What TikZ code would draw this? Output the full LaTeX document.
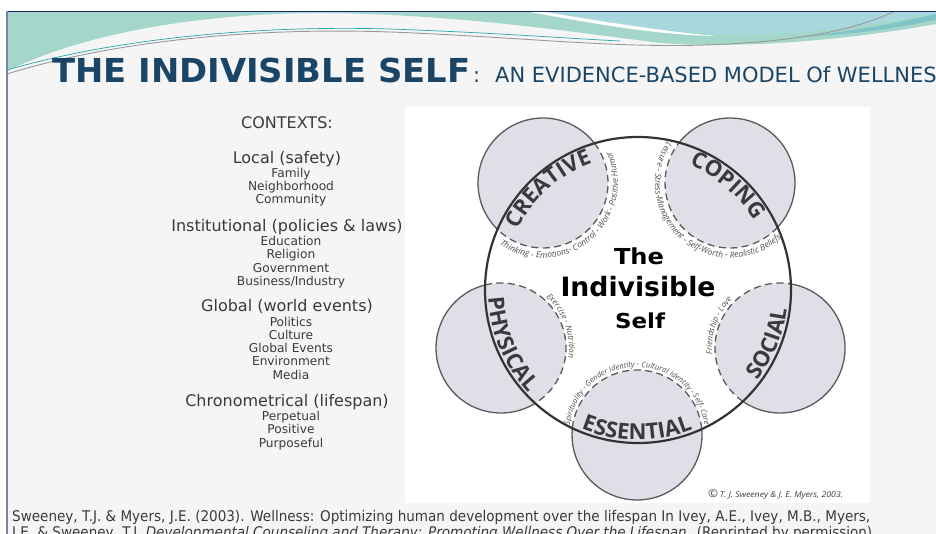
\documentclass[tikz,border=0pt]{standalone}
\usepackage{graphicx}
\usepackage{fontspec}
\setmainfont{DejaVu Sans}
\newfontfamily\opensans{Open Sans}
\usetikzlibrary{decorations.text}

\definecolor{pagebg}{HTML}{F5F5F5}
\definecolor{titleblue}{HTML}{1B4566}
\definecolor{tealgreen}{HTML}{A4D6CA}
\definecolor{tealblue}{HTML}{A8D8DD}
\definecolor{tealdeep}{HTML}{7FC4C6}
\definecolor{framenavy}{HTML}{1C2766}
\definecolor{frameside}{HTML}{7A86A6}
\definecolor{ctxgray}{HTML}{3A3A3A}
\definecolor{bubblefill}{HTML}{E0DEE6}
\definecolor{rimgray}{HTML}{5A5A5A}
\definecolor{ringdark}{HTML}{333333}
\definecolor{labeldark}{HTML}{3A3A3A}
\definecolor{notegray}{HTML}{505050}

\newcommand\arcsmallfont[1]{\opensans\itshape\fontsize{#1}{10}\selectfont}
\newcommand\arcbigfont{\opensans\bfseries\fontsize{22}{24}\selectfont}

\begin{document}
\begin{tikzpicture}[x=1pt,y=-1pt,
  ctxhead/.style={font=\fontsize{16}{18}\selectfont, text=ctxgray, anchor=base, inner sep=0pt},
  ctxitem/.style={font=\fontsize{12.2}{14}\selectfont, text=ctxgray, anchor=base, inner sep=0pt},
  rimsolid/.style={draw=rimgray, line width=1.3pt},
  rimdash/.style={draw=rimgray, line width=1.3pt, dash pattern=on 7pt off 4.5pt},
  bigring/.style={draw=ringdark, line width=2.2pt},
  biglabel/.style={decorate, decoration={text along path, text align=center, text color=labeldark, text={|\arcbigfont|#1}}},
  smalllabel/.style 2 args={decorate, decoration={text along path, text align=center, text color=notegray, text={|\arcsmallfont{#1}|#2}}},
  swooshgray/.style={draw=gray!80, line width=0.9pt},
  swooshteal/.style={draw=teal!55!cyan!70!gray, line width=0.7pt},
]
\useasboundingbox (0,0) rectangle (936,534);
\clip (0,0) rectangle (936,534);

% slide background
\fill[white] (0,0) rectangle (936,534);
\fill[pagebg] (7,12) rectangle (936,534);

% header wave
\fill[tealgreen] (7,12) -- (7,71) .. controls (60,45) and (160,14) .. (320,13)
  .. controls (450,14) and (560,30) .. (660,43) .. controls (760,50) and (870,36) .. (936,24) -- (936,12) -- cycle;
\fill[tealblue] (545,12) .. controls (600,21) and (660,31) .. (712,34)
  .. controls (790,37) and (860,27) .. (936,14) -- (936,12) -- cycle;
\fill[tealdeep] (790,37) .. controls (850,33) and (900,22) .. (936,14) -- (936,20)
  .. controls (900,27) and (850,36) .. (790,37) -- cycle;
\fill[white] (530,12) .. controls (600,25) and (660,35) .. (716,36)
  .. controls (660,31) and (600,21) .. (545,12) -- cycle;
\draw[swooshteal] (7,70) .. controls (110,40) and (250,25) .. (390,29) .. controls (500,33) and (560,38) .. (620,41);
\draw[swooshgray] (7,74) .. controls (110,42) and (250,27) .. (390,32)
  .. controls (520,37) and (610,48) .. (705,45) .. controls (790,42) and (850,32) .. (893,12);

% frame
\draw[framenavy, line width=1.5pt] (6,11.5) -- (936,11.5);
\draw[frameside, line width=1.5pt] (7,11.5) -- (7,534);

% title
\node[anchor=base west, inner sep=0pt, text=titleblue] (title) at (52,83)
  {\resizebox{418pt}{\height}{\fontsize{33}{33}\selectfont\bfseries THE INDIVISIBLE SELF}};
\node[anchor=base west, inner sep=0pt, text=titleblue, font=\fontsize{21}{21}\selectfont] (colon) at (473,83) {:};
\node[anchor=base west, inner sep=0pt, text=titleblue, font=\fontsize{21}{21}\selectfont] (subtitle) at (495,83)
  {AN EVIDENCE-BASED MODEL Of WELLNESS};

% contexts column
\node[ctxhead] (ctx) at (287,129) {CONTEXTS:};
\node[ctxhead] (local) at (287,164) {Local (safety)};
\node[ctxitem] (family) at (291,177.5) {Family};
\node[ctxitem] (neigh) at (291,190.5) {Neighborhood};
\node[ctxitem] (comm) at (291,203.5) {Community};
\node[ctxhead] (inst) at (287,232) {Institutional (policies \& laws)};
\node[ctxitem] (edu) at (291,245.5) {Education};
\node[ctxitem] (rel) at (291,258.5) {Religion};
\node[ctxitem] (gov) at (291,272.5) {Government};
\node[ctxitem] (bus) at (291,285.5) {Business/Industry};
\node[ctxhead] (glob) at (287,312) {Global (world events)};
\node[ctxitem] (pol) at (291,326.5) {Politics};
\node[ctxitem] (cult) at (291,339.5) {Culture};
\node[ctxitem] (gev) at (291,352.5) {Global Events};
\node[ctxitem] (env) at (291,365.5) {Environment};
\node[ctxitem] (media) at (291,379.5) {Media};
\node[ctxhead] (chron) at (287,406) {Chronometrical (lifespan)};
\node[ctxitem] (perp) at (291,420.5) {Perpetual};
\node[ctxitem] (posi) at (291,433.5) {Positive};
\node[ctxitem] (purp) at (291,447.5) {Purposeful};

% model panel
\fill[white] (405,107) rectangle (870,503);

\coordinate (B) at (638,290);
\coordinate (cre) at (543,183);
\coordinate (cop) at (730,183);
\coordinate (phy) at (501,348);
\coordinate (soc) at (780,348);
\coordinate (ess) at (637,435);

% wellness factor circles
\foreach \c in {cre,cop,phy,soc,ess} \fill[bubblefill] (\c) circle[radius=65];

% outer (solid) and inner (dashed) parts of each factor circle
\draw[rimsolid] ([shift={(134.4:65)}]cre) arc[start angle=134.4, end angle=322.4, radius=65];
\draw[rimdash]  ([shift={(-37.6:65)}]cre) arc[start angle=-37.6, end angle=134.4, radius=65];
\draw[rimsolid] ([shift={(218.4:65)}]cop) arc[start angle=218.4, end angle=403.0, radius=65];
\draw[rimdash]  ([shift={(43.0:65)}]cop) arc[start angle=43.0, end angle=218.4, radius=65];
\draw[rimsolid] ([shift={(58.3:65)}]phy) arc[start angle=58.3, end angle=255.8, radius=65];
\draw[rimdash]  ([shift={(-104.2:65)}]phy) arc[start angle=-104.2, end angle=58.3, radius=65];
\draw[rimsolid] ([shift={(279.6:65)}]soc) arc[start angle=279.6, end angle=484.8, radius=65];
\draw[rimdash]  ([shift={(124.8:65)}]soc) arc[start angle=124.8, end angle=279.6, radius=65];
\draw[rimsolid] ([shift={(-5.2:65)}]ess) arc[start angle=-5.2, end angle=186.0, radius=65];
\draw[rimdash]  ([shift={(-174.0:65)}]ess) arc[start angle=-174.0, end angle=-5.2, radius=65];

% the self
\draw[bigring] (B) circle[radius=153];

% factor names along the self
\path[biglabel={CREATIVE}]  ([shift={(168.4:135)}]B) arc[start angle=168.4, end angle=288.4, radius=135];
\path[biglabel={COPING}]    ([shift={(-109.3:135)}]B) arc[start angle=-109.3, end angle=10.7, radius=135];
\path[biglabel={SOCIAL}]    ([shift={(82.2:150)}]B) arc[start angle=82.2, end angle=-37.8, radius=150];
\path[biglabel={ESSENTIAL}] ([shift={(150.4:150)}]B) arc[start angle=150.4, end angle=30.4, radius=150];
\path[biglabel={PHYSICAL}]  ([shift={(217.1:150)}]B) arc[start angle=217.1, end angle=97.1, radius=150];

% components of each factor
\path[smalllabel={8.5}{Thinking - Emotions- Control - Work - Positive Humor}]
  ([shift={(162:75)}]cre) arc[start angle=162, end angle=-62, radius=75];
\path[smalllabel={8.5}{Leisure - Stress-Management - Self-Worth - Realistic Beliefs}]
  ([shift={(242:75)}]cop) arc[start angle=242, end angle=18, radius=75];
\path[smalllabel={8.1}{Exercise - Nutrition}]
  ([shift={(-110:68)}]phy) arc[start angle=-110, end angle=70, radius=68];
\path[smalllabel={8.1}{Friendship - Love}]
  ([shift={(110:68)}]soc) arc[start angle=110, end angle=290, radius=68];
\path[smalllabel={7.7}{Spirituality - Gender Identity - Cultural Identity - Self- Care}]
  ([shift={(150:68)}]ess) arc[start angle=150, end angle=390, radius=68];

% centre title
\node[anchor=base, inner sep=0pt, font=\bfseries\fontsize{22}{22}\selectfont] (the) at (639,264.5)
  {\resizebox{50pt}{\height}{The}};
\node[anchor=base, inner sep=0pt, font=\bfseries\fontsize{26.6}{27}\selectfont] (indiv) at (638,296.5)
  {\resizebox{155pt}{\height}{Indivisible}};
\node[anchor=base, inner sep=0pt, font=\bfseries\fontsize{20.6}{21}\selectfont] (self) at (640,328.5)
  {\resizebox{50pt}{\height}{Self}};

% copyright
\node[anchor=base, inner sep=0pt, text=ctxgray] (copy) at (775.5,497)
  {\resizebox{135pt}{\height}{{\opensans\fontsize{11}{11}\selectfont ©}\,{\opensans\itshape\fontsize{8}{9}\selectfont T. J. Sweeney \& J. E. Myers, 2003.}}};

% reference
\node[anchor=base west, inner sep=0pt, text=ctxgray] (cite1) at (12,521.5)
  {\resizebox{858pt}{\height}{\fontsize{14.7}{16}\selectfont Sweeney, T.J. \& Myers, J.E. (2003). Wellness: Optimizing human development over the lifespan In Ivey, A.E., Ivey, M.B., Myers,}};
\node[anchor=base west, inner sep=0pt, text=ctxgray] (cite2) at (12,537.5)
  {\resizebox{860pt}{\height}{\fontsize{14.7}{16}\selectfont J.E. \& Sweeney, T.J. \textit{Developmental Counseling and Therapy: Promoting Wellness Over the Lifespan}. (Reprinted by permission)}};
\end{tikzpicture}
\end{document}
